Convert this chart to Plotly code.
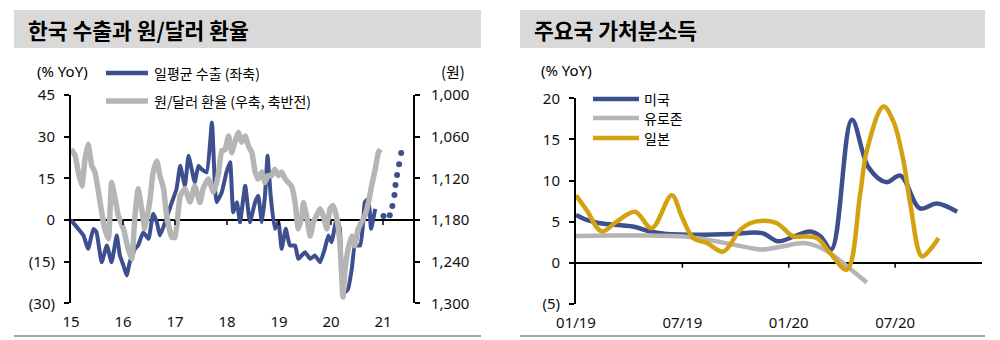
import plotly.graph_objects as go

# ---------------- data: left chart (Korea exports vs KRW/USD) ----------------
exp_t = [2015.0, 2015.14, 2015.24, 2015.33, 2015.43, 2015.49, 2015.59, 2015.69, 2015.78, 2015.88,
         2015.94, 2016.01, 2016.07, 2016.13, 2016.23, 2016.29, 2016.39, 2016.49, 2016.58, 2016.65,
         2016.71, 2016.81, 2016.94, 2017.03, 2017.10, 2017.19, 2017.26, 2017.32, 2017.38, 2017.45,
         2017.51, 2017.61, 2017.71, 2017.77, 2017.80, 2017.90, 2017.99, 2018.06, 2018.12, 2018.19,
         2018.25, 2018.35, 2018.44, 2018.54, 2018.60, 2018.67, 2018.73, 2018.78, 2018.84, 2018.92,
         2018.99, 2019.05, 2019.13, 2019.21, 2019.31, 2019.37, 2019.50, 2019.60, 2019.69, 2019.79,
         2019.88, 2019.95, 2020.01, 2020.11, 2020.17, 2020.21, 2020.27, 2020.33, 2020.40, 2020.46,
         2020.56, 2020.62, 2020.65, 2020.72, 2020.77, 2020.85]
exp_v = [0, -3.2, -5.6, -10.4, -3.2, -4.4, -15.2, -9.2, -15.2, -5.6,
         -12.8, -16.4, -20, -15.2, -10.4, -9.2, -4.4, -6.8, 2.2, -0.8,
         -5.6, -0.8, 6.4, 11.2, 19.5, 12.3, 23.1, 18.3, 13.6, 19.5,
         18.3, 17.2, 35.1, 11.2, 6.4, 10, 17.2, 20.8, 2.8, 6.4,
         -0.8, 12.3, -0.8, 6.4, 8.7, -0.8, 8.7, 23.1, 8.7, -3.2,
         -0.8, -10.4, -3.2, -9.2, -9.2, -14, -11.6, -14, -12.8, -15.2,
         -10.4, -5.6, -8, 0.7, -3.2, -20, -26, -24.8, -17.6, -9.2,
         -9.2, -0.8, 6.4, 7.6, -3.2, 4]

fc_t = [2021.01, 2021.13, 2021.18, 2021.22, 2021.24, 2021.27, 2021.31, 2021.35]
fc_v = [1.4, 1.7, 5.0, 9.0, 12.6, 16.2, 20.1, 24.1]

fx_t = [2015.0, 2015.08, 2015.14, 2015.21, 2015.27, 2015.33, 2015.40, 2015.46, 2015.53, 2015.59,
        2015.65, 2015.72, 2015.78, 2015.85, 2015.91, 2016.01, 2016.10, 2016.17, 2016.23, 2016.29,
        2016.36, 2016.42, 2016.52, 2016.58, 2016.65, 2016.71, 2016.78, 2016.84, 2016.94, 2017.00,
        2017.10, 2017.19, 2017.29, 2017.38, 2017.48, 2017.54, 2017.64, 2017.74, 2017.83, 2017.90,
        2017.96, 2018.03, 2018.09, 2018.15, 2018.22, 2018.28, 2018.35, 2018.41, 2018.48, 2018.54,
        2018.60, 2018.67, 2018.73, 2018.79, 2018.86, 2018.92, 2018.99, 2019.05, 2019.12, 2019.18,
        2019.24, 2019.31, 2019.37, 2019.44, 2019.47, 2019.53, 2019.60, 2019.66, 2019.72, 2019.79,
        2019.85, 2019.92, 2019.98, 2020.04, 2020.11, 2020.17, 2020.23, 2020.27, 2020.33, 2020.40,
        2020.46, 2020.52, 2020.59, 2020.65, 2020.72, 2020.78, 2020.85, 2020.91, 2020.95]
fx_v = [1078, 1087, 1111, 1131, 1092, 1071, 1102, 1111, 1140, 1169,
        1193, 1207, 1126, 1150, 1174, 1193, 1222, 1236, 1174, 1135,
        1164, 1193, 1150, 1111, 1095, 1116, 1135, 1174, 1205, 1205,
        1145, 1135, 1154, 1131, 1155, 1135, 1121, 1140, 1116, 1080,
        1079, 1059, 1083, 1068, 1054, 1068, 1059, 1073, 1083, 1111,
        1121, 1111, 1126, 1116, 1116, 1107, 1116, 1111, 1121, 1126,
        1131, 1155, 1193, 1174, 1155, 1174, 1203, 1183, 1174, 1164,
        1174, 1193, 1164, 1159, 1177, 1212, 1291, 1251, 1222, 1203,
        1217, 1193, 1183, 1174, 1155, 1131, 1107, 1083, 1078]

left_xticks = [2015, 2016, 2017, 2018, 2019, 2020, 2021]
left_xlabels = ['15', '16', '17', '18', '19', '20', '21']
left_yticks = [-30, -15, 0, 15, 30, 45]
left_ylabels = ['(30)', '(15)', '0', '15', '30', '45']
won_ticks = [1000, 1060, 1120, 1180, 1240, 1300]

# ---------------- data: right chart (disposable income), months since 01/19 ----------------
us_m = [0, 0.6, 1.35, 3.2, 4.2, 5.1, 7.0, 8.8, 10.5, 11.4, 12.3, 13.2, 13.8, 14.4, 15.56,
        16.5, 17.5, 18.3, 19.4, 20.35, 21.5]
us_v = [5.8, 5.2, 4.8, 4.4, 3.8, 3.5, 3.4, 3.5, 3.6, 2.6, 3.2, 3.8, 3.2, 1.6, 17.4,
        11.6, 9.8, 10.6, 6.6, 7.2, 6.2]
eu_m = [0, 2.0, 4.2, 6.1, 7.4, 8.9, 9.8, 10.5, 11.7, 12.8, 13.6, 14.3, 15.3, 16.4]
eu_v = [3.25, 3.3, 3.3, 3.2, 2.8, 2.2, 1.8, 1.6, 2.0, 2.4, 2.0, 1.2, -0.45, -2.4]
jp_m = [0, 0.6, 1.45, 2.3, 3.33, 4.27, 5.4, 5.97, 6.62, 7.38, 8.31, 9.26, 9.82, 10.57, 11.33,
        12.26, 12.83, 13.58, 14.33, 15.28, 16.03, 16.4, 17.34, 17.9, 18.47, 18.85, 19.51, 19.98, 20.45]
jp_v = [8.2, 6.4, 3.8, 5.0, 6.2, 4.2, 8.2, 5.6, 3.0, 2.4, 1.35, 4.0, 4.8, 5.1, 4.8,
        3.2, 3.2, 3.0, 1.2, -0.85, 8.4, 13.6, 19.0, 17.2, 12.4, 7.2, 0.76, 1.6, 3.0]

right_xticks = [0, 6, 12, 18]
right_xlabels = ['01/19', '07/19', '01/20', '07/20']
right_yticks = [-5, 0, 5, 10, 15, 20]
right_ylabels = ['(5)', '0', '5', '10', '15', '20']

series_names = ['일평균 수출 (좌축)', '원/달러 환율 (우축, 축반전)', '미국', '유로존', '일본']

# ---------------- styling ----------------
W, H = 1000, 340
def px(x): return x / W
def py(y): return 1 - y / H

BLUE = '#3D4F8E'
GRAY = '#B5B5B5'
GOLD = '#D4A20E'
FONT = 'Noto Sans, Noto Sans CJK KR, sans-serif'
KFONT = 'Noto Sans CJK KR, Noto Sans, sans-serif'
TICKFONT = dict(family=FONT, size=15, color='#111')

fig = go.Figure()

fig.add_trace(go.Scatter(x=exp_t, y=exp_v, mode='lines', name=series_names[0],
                         line=dict(color=BLUE, width=4, shape='spline', smoothing=0.4),
                         xaxis='x', yaxis='y'))
fig.add_trace(go.Scatter(x=fc_t, y=fc_v, mode='markers', name=series_names[0],
                         marker=dict(color=BLUE, size=6), xaxis='x', yaxis='y'))
fig.add_trace(go.Scatter(x=fx_t, y=fx_v, mode='lines', name=series_names[1],
                         line=dict(color=GRAY, width=5.5, shape='spline', smoothing=0.4),
                         xaxis='x', yaxis='y2'))

fig.add_trace(go.Scatter(x=us_m, y=us_v, mode='lines', name=series_names[2],
                         line=dict(color=BLUE, width=4.5, shape='spline', smoothing=1.0),
                         xaxis='x3', yaxis='y3'))
fig.add_trace(go.Scatter(x=eu_m, y=eu_v, mode='lines', name=series_names[3],
                         line=dict(color=GRAY, width=4.5, shape='spline', smoothing=1.0),
                         xaxis='x3', yaxis='y3'))
fig.add_trace(go.Scatter(x=jp_m, y=jp_v, mode='lines', name=series_names[4],
                         line=dict(color=GOLD, width=4.5, shape='spline', smoothing=1.0),
                         xaxis='x3', yaxis='y3'))

axis_common = dict(showgrid=False, linecolor='black', tickcolor='black', tickfont=TICKFONT,
                   automargin=False)

fig.update_layout(
    template='none',
    width=W, height=H, margin=dict(l=0, r=0, t=0, b=0, pad=0), autosize=False,
    paper_bgcolor='white', plot_bgcolor='white', showlegend=False,
    xaxis=dict(domain=[px(71), px(413)], range=[2015, 2021.577], tickvals=left_xticks,
               ticktext=left_xlabels, showline=False, ticks='', zeroline=False,
               anchor='y', ticklabelstandoff=8, **axis_common),
    yaxis=dict(domain=[py(303.3), py(95)], range=[-30, 45], tickvals=left_yticks,
               ticktext=left_ylabels, showline=True, linewidth=2, ticks='outside', ticklen=5,
               tickwidth=1.5, zeroline=True, zerolinecolor='black', zerolinewidth=1.5,
               anchor='x', ticklabelstandoff=6, **axis_common),
    yaxis2=dict(overlaying='y', side='right', anchor='x', range=[1300, 1000], tickvals=won_ticks,
                tickformat=',', showline=True, linewidth=2, ticks='outside', ticklen=5,
                tickwidth=1.5, zeroline=False, ticklabelstandoff=8, **axis_common),
    xaxis3=dict(domain=[px(576), px(982)], range=[0, 22.9], tickvals=right_xticks,
                ticktext=right_xlabels, showline=False, ticks='', zeroline=False,
                anchor='y3', ticklabelstandoff=8, **axis_common),
    yaxis3=dict(domain=[py(303.8), py(98.3)], range=[-5, 20], tickvals=right_yticks,
                ticktext=right_ylabels, showline=True, linewidth=2, ticks='outside', ticklen=5,
                tickwidth=1.5, zeroline=True, zerolinecolor='black', zerolinewidth=1.5,
                anchor='x3', ticklabelstandoff=6, **axis_common),
)

shapes = []
# title bars
for x0, x1 in [(14, 481), (520, 985)]:
    shapes.append(dict(type='rect', xref='paper', yref='paper', x0=px(x0), x1=px(x1),
                       y0=py(48), y1=py(10), fillcolor='#D9D9D9', line=dict(width=0), layer='below'))
    shapes.append(dict(type='line', xref='paper', yref='paper', x0=px(x0), x1=px(x1),
                       y0=py(336), y1=py(336), line=dict(color='#A6A6A6', width=2)))
# tick marks on the zero lines
for t in left_xticks[1:]:
    shapes.append(dict(type='line', xref='x', yref='y', ysizemode='pixel', yanchor=0,
                       x0=t, x1=t, y0=0, y1=-5, line=dict(color='black', width=1.5)))
for t in right_xticks[1:]:
    shapes.append(dict(type='line', xref='x3', yref='y3', ysizemode='pixel', yanchor=0,
                       x0=t, x1=t, y0=0, y1=-5, line=dict(color='black', width=1.5)))
# legend samples
for y, c, w in [(73, BLUE, 4.5), (101, GRAY, 5.5)]:
    shapes.append(dict(type='line', xref='paper', yref='paper', x0=px(106), x1=px(148),
                       y0=py(y), y1=py(y), line=dict(color=c, width=w)))
for y, c in [(99, BLUE), (118, GRAY), (138, GOLD)]:
    shapes.append(dict(type='line', xref='paper', yref='paper', x0=px(593), x1=px(639),
                       y0=py(y), y1=py(y), line=dict(color=c, width=4.5)))
fig.update_layout(shapes=shapes)

ann = []
def text(x, y, s, size, anchor='left', bold=False, family=KFONT):
    ann.append(dict(xref='paper', yref='paper', x=px(x), y=py(y), text=('<b>%s</b>' % s) if bold else s,
                    showarrow=False, xanchor=anchor, yanchor='middle',
                    font=dict(family=family, size=size, color='black')))

text(26, 29, '한국 수출과 원/달러 환율', 21.5, bold=True)
text(532, 29, '주요국 가처분소득', 21.5, bold=True)
text(62, 71, '(% YoY)', 15, anchor='center', family=FONT)
text(453, 71, '(원)', 15, anchor='center')
text(566, 70, '(% YoY)', 15, anchor='center', family=FONT)
text(152, 73, series_names[0], 14)
text(152, 101, series_names[1], 14)
text(642, 99, series_names[2], 14)
text(642, 118, series_names[3], 14)
text(642, 138, series_names[4], 14)
fig.update_layout(annotations=ann)

fig.write_html('out.html')
